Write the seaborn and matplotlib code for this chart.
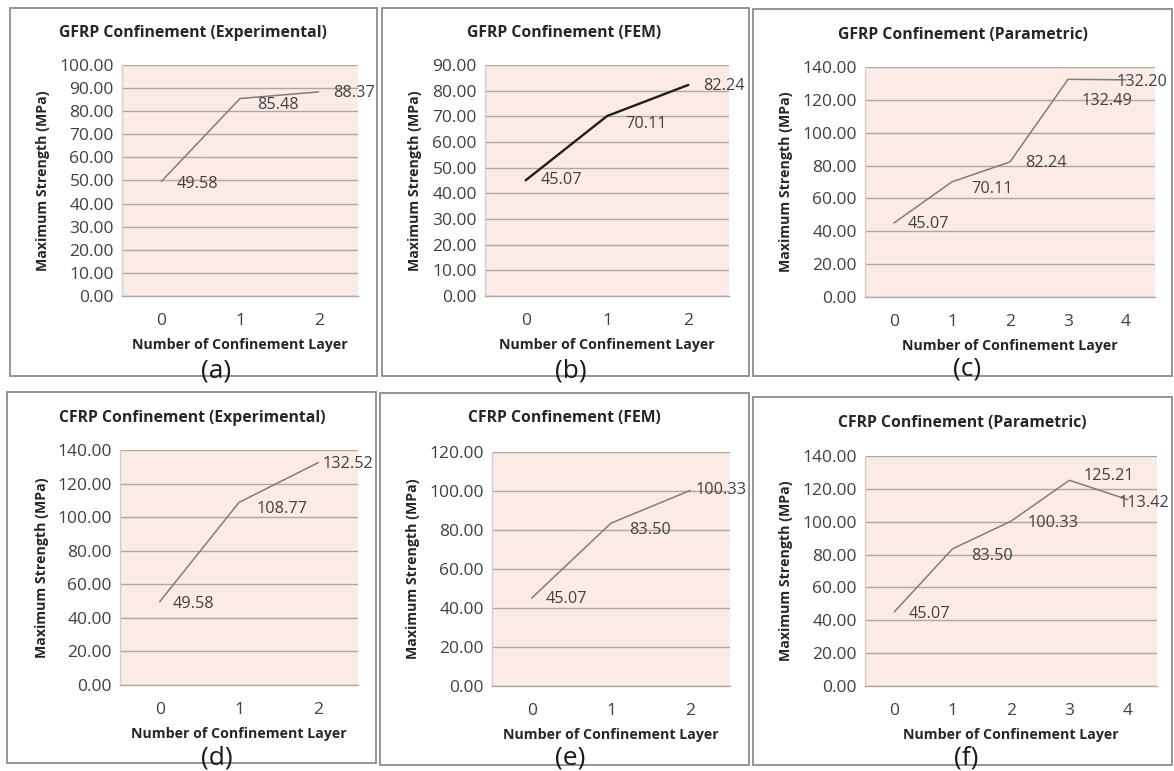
import matplotlib
matplotlib.use("Agg")
import matplotlib.pyplot as plt
import seaborn as sns
from matplotlib.patches import Rectangle

# ---- data -------------------------------------------------------------
layers_3 = [0, 1, 2]
layers_5 = [0, 1, 2, 3, 4]

gfrp_experimental = [49.58, 85.48, 88.37]
gfrp_fem = [45.07, 70.11, 82.24]
gfrp_parametric = [45.07, 70.11, 82.24, 132.49, 132.20]
cfrp_experimental = [49.58, 108.77, 132.52]
cfrp_fem = [45.07, 83.50, 100.33]
cfrp_parametric = [45.07, 83.50, 100.33, 125.21, 113.42]

titles = [
    "GFRP Confinement (Experimental)",
    "GFRP Confinement (FEM)",
    "GFRP Confinement (Parametric)",
    "CFRP Confinement (Experimental)",
    "CFRP Confinement (FEM)",
    "CFRP Confinement (Parametric)",
]
tags = ["(a)", "(b)", "(c)", "(d)", "(e)", "(f)"]
x_label = "Number of Confinement Layer"
y_label = "Maximum Strength (MPa)"

series = [
    (layers_3, gfrp_experimental),
    (layers_3, gfrp_fem),
    (layers_5, gfrp_parametric),
    (layers_3, cfrp_experimental),
    (layers_3, cfrp_fem),
    (layers_5, cfrp_parametric),
]
y_max = [100, 90, 140, 140, 120, 140]
y_step = [10, 10, 20, 20, 20, 20]

# ---- layout (pixels on a 1174 x 771 canvas) ---------------------------
W, H = 1174, 771

# frame box and plot rectangle, each as (left, top, right, bottom)
boxes = [
    (10, 8, 377, 376), (382, 8, 749, 376), (753, 9, 1172, 376),
    (7, 392, 376, 763), (380, 393, 749, 765), (753, 397, 1172, 765),
]
plots = [
    (122, 65, 358, 296), (485, 65, 729, 296), (865, 67, 1155, 297),
    (120, 450, 358, 685), (492, 452, 730, 686), (865, 456, 1157, 686),
]
title_pos = [(193, 33), (564, 33), (963, 35), (192, 418), (564, 418), (962, 423)]
tag_pos = [(216, 371), (571, 371), (967, 369), (217, 758), (570, 758), (966, 758)]
ylabel_x = [43, 415, 786, 42, 413, 786]
xlabel_gap = 49  # pixels from the x axis down to the axis-title centre

# data-label offsets in pixels (right, down)
label_offsets = [
    [(15, 3), (17, 6), (14, 1)],
    [(15, 0), (18, 8), (15, 1)],
    [(14, 1), (19, 7), (15, 1), (14, 22), (-9, 2)],
    [(13, 2), (18, 7), (4, 1)],
    [(14, 1), (18, 7), (5, 0)],
    [(14, 2), (19, 7), (17, 2), (14, -4), (-9, 3)],
]
line_colors = ["#7d7d7d", "#1e1e1e", "#7d7d7d", "#7d7d7d", "#7d7d7d", "#7d7d7d"]
line_widths = [1.1, 1.7, 1.1, 1.1, 1.1, 1.1]

sns.set_style("white")
plt.rcParams["font.family"] = ["Open Sans", "DejaVu Sans"]

fig = plt.figure(figsize=(W / 100, H / 100), dpi=100)
fig.patch.set_facecolor("white")

GRID = "#a8a8a8"
TEXT = "#404040"
DARK = "#262626"
PLOT_BG = "#fcebe4"


def fx(px):
    return px / W


def fy(py):
    return 1 - py / H


for i, ((xs, ys), box, pr) in enumerate(zip(series, boxes, plots)):
    # chart frame
    bl, bt, br, bb = box
    fig.patches.append(Rectangle((fx(bl), fy(bb)), fx(br - bl), (bb - bt) / H,
                                 transform=fig.transFigure, fill=False,
                                 edgecolor="#8c8c8c", linewidth=1.3, zorder=0))

    l, t, r, b = pr
    ax = fig.add_axes([fx(l), fy(b), fx(r - l), (b - t) / H])
    ax.set_facecolor(PLOT_BG)

    sns.lineplot(x=xs, y=ys, ax=ax, color=line_colors[i],
                 linewidth=line_widths[i], zorder=3)

    n = len(xs)
    ax.set_xlim(-0.5, n - 0.5)
    ax.set_ylim(0, y_max[i])
    ax.set_xticks(xs)
    ax.set_xticklabels([str(v) for v in xs])
    yt = list(range(0, y_max[i] + 1, y_step[i]))
    ax.set_yticks(yt)
    ax.set_yticklabels([f"{v:.2f}" for v in yt])

    ax.set_axisbelow(True)
    ax.yaxis.grid(True, color=GRID, linewidth=1.0)
    ax.xaxis.grid(False)
    for s in ("top", "right"):
        ax.spines[s].set_visible(False)
    ax.spines["left"].set_color("#cfcfcf")
    ax.spines["left"].set_linewidth(1.0)
    ax.spines["bottom"].set_color(GRID)
    ax.spines["bottom"].set_linewidth(1.0)

    ax.tick_params(axis="y", length=4.3, width=0.9, color=GRID, pad=1.5,
                   labelsize=12.5, labelcolor=TEXT)
    ax.tick_params(axis="x", length=0, pad=12, labelsize=12.5, labelcolor=TEXT)

    ax.set_xlabel(x_label, fontsize=10.2, fontweight="bold", color=DARK)
    ax.xaxis.set_label_coords(0.5, -xlabel_gap / (b - t))
    ax.set_ylabel(y_label, fontsize=10.2, fontweight="bold", color=DARK)
    ax.yaxis.set_label_coords(-(l - ylabel_x[i]) / (r - l), 0.5)
    ax.xaxis.label.set_va("center")
    ax.yaxis.label.set_va("center")

    for j, (xv, yv) in enumerate(zip(xs, ys)):
        dx, dy = label_offsets[i][j]
        ax.annotate(f"{yv:.2f}", (xv, yv), xytext=(dx, -dy),
                    textcoords="offset pixels", ha="left", va="center",
                    fontsize=11.7, color=TEXT, zorder=4)

    fig.text(fx(title_pos[i][0]), fy(title_pos[i][1]), titles[i],
             ha="center", va="center", fontsize=11.3, fontweight="bold",
             color=DARK)
    fig.text(fx(tag_pos[i][0]), fy(tag_pos[i][1]), tags[i],
             ha="center", va="center", fontsize=19, color="#1a1a1a")

fig.savefig("out.png", dpi=100, facecolor="white")
